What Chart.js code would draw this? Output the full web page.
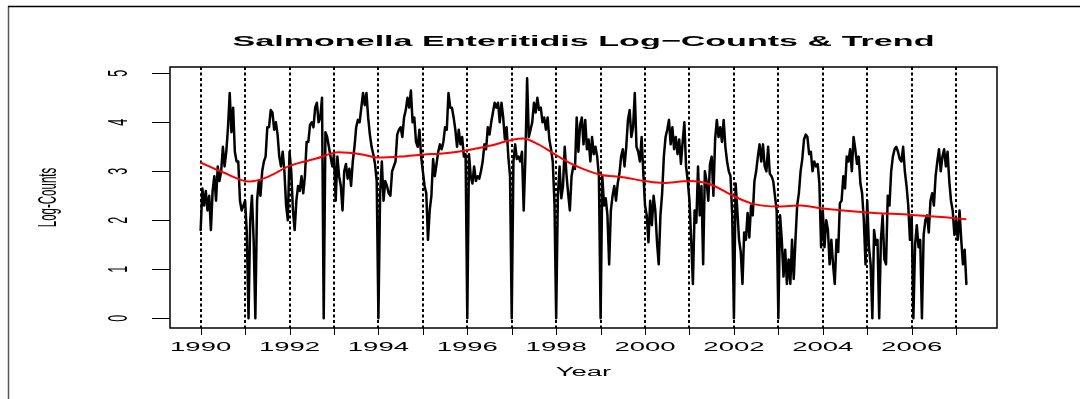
<!DOCTYPE html>
<html>
<head>
<meta charset="utf-8">
<title>Salmonella Enteritidis Log-Counts</title>
<script src="https://cdn.jsdelivr.net/npm/chart.js@4.4.1/dist/chart.umd.min.js"></script>
<style>
  html, body { margin: 0; padding: 0; background: #ffffff; }
  canvas { display: block; }
</style>
</head>
<body>
<canvas id="c" width="1086" height="399"></canvas>
<script>
// Bi-weekly log-counts, one array per year (26 readings per year)
const y1990 = [1.8,2.65,2.3,2.6,2.2,2.5,1.8,2.6,2.9,2.4,3.1,2.8,3.0,3.5,3.1,3.4,3.9,4.6,3.8,4.3,3.4,3.2,3.2,2.4,2.2,2.3];
const y1991 = [2.4,1.75,0.0,2.0,2.5,1.6,0.0,2.4,2.8,2.5,3.0,3.2,3.3,3.9,3.9,4.25,4.2,3.85,4.0,3.75,3.3,3.1,3.4,3.0,2.3,2.0];
const y1992 = [3.4,3.0,2.2,1.8,2.4,2.7,2.6,2.9,2.55,2.9,3.6,3.6,3.95,4.0,3.9,4.3,4.4,4.0,4.1,4.5,0.0,3.8,3.7,3.5,3.3,3.1];
const y1993 = [3.35,2.4,3.3,2.9,2.7,2.2,3.0,3.15,2.85,3.05,2.7,3.2,3.5,3.9,4.05,4.0,4.3,4.6,4.35,4.6,4.1,3.75,3.5,3.35,3.15,2.8];
const y1994 = [0.0,2.55,3.2,2.4,2.8,2.7,2.55,2.5,3.0,3.1,3.2,3.75,3.85,3.9,3.7,4.1,4.25,4.5,4.3,4.65,4.0,4.1,3.6,3.5,3.85,3.3];
const y1995 = [3.0,2.7,2.55,1.6,2.2,2.5,3.25,2.9,3.15,3.4,3.55,3.45,3.6,3.9,3.85,4.6,4.3,4.3,4.1,3.85,3.5,3.85,3.55,3.7,3.3,3.35];
const y1996 = [0.0,3.35,2.9,2.75,3.1,2.8,2.9,2.85,3.0,3.2,3.55,3.45,3.9,3.75,4.0,4.2,4.4,4.3,4.4,4.0,4.4,4.1,3.65,3.9,3.3,2.9];
const y1997 = [0.0,3.2,3.55,3.25,3.3,3.2,3.4,2.2,3.3,4.9,3.7,3.85,4.0,4.4,4.2,4.5,4.25,4.3,4.0,4.1,3.85,4.1,3.65,3.45,3.2,2.35];
const y1998 = [0.0,2.5,3.1,2.45,2.7,3.5,2.95,2.55,2.2,2.9,3.1,3.05,4.1,3.4,3.95,4.1,3.55,4.05,3.45,3.65,3.2,3.7,3.35,3.5,3.3,2.9];
const y1999 = [0.0,2.9,2.3,2.45,2.1,1.1,2.2,2.5,2.7,2.4,2.75,2.95,3.3,3.45,3.1,3.5,4.05,4.25,3.7,3.9,4.6,3.5,3.4,3.2,3.7,2.95];
const y2000 = [2.3,2.1,1.55,2.4,1.9,2.5,2.2,1.55,1.1,2.1,2.55,3.3,3.7,3.85,4.05,3.55,3.9,3.45,3.7,3.35,3.65,3.15,3.6,4.0,3.1,2.8];
const y2001 = [2.4,1.6,0.7,2.2,1.95,3.1,2.1,2.7,1.1,3.0,2.8,2.4,3.15,3.3,2.5,3.65,4.05,3.7,3.9,3.6,4.05,3.5,3.2,3.0,2.9,2.1];
const y2002 = [0.0,2.75,2.2,1.6,1.35,0.7,1.75,1.6,2.15,1.65,2.3,2.1,2.8,3.0,3.3,3.55,3.2,3.55,3.1,3.0,3.5,2.95,2.9,2.8,2.5,2.2];
const y2003 = [0.0,2.1,1.6,0.85,1.4,0.7,1.2,0.7,1.6,0.8,1.6,2.3,2.55,3.0,3.25,3.65,3.75,3.7,3.35,3.4,3.0,3.2,3.1,3.15,2.75,1.45];
const y2004 = [2.2,1.45,2.0,1.8,1.1,1.6,1.1,0.7,1.6,1.35,2.35,2.4,2.9,2.65,3.3,3.2,3.45,3.0,3.7,3.45,3.15,3.3,2.75,2.55,2.0,1.1];
const y2005 = [2.4,1.45,1.1,0.0,1.8,1.5,1.6,0.0,1.6,2.1,1.2,1.1,2.5,2.3,3.0,3.3,3.45,3.5,3.4,3.25,3.2,3.5,3.0,2.7,2.3,1.6];
const y2006 = [2.1,0.0,1.5,1.9,1.45,1.6,0.0,1.7,2.0,2.1,1.75,2.4,2.55,2.3,2.9,3.2,3.45,3.0,3.3,3.45,3.1,3.4,2.8,2.4,2.2,1.7];
const y2007 = [2.0,1.6,2.2,1.6,1.1,1.4,0.7];

const seasons = [
  [1990, y1990], [1991, y1991], [1992, y1992], [1993, y1993], [1994, y1994],
  [1995, y1995], [1996, y1996], [1997, y1997], [1998, y1998], [1999, y1999],
  [2000, y2000], [2001, y2001], [2002, y2002], [2003, y2003], [2004, y2004],
  [2005, y2005], [2006, y2006], [2007, y2007]
];
const readingsPerYear = 26;

// Smoothed trend
const trendYears  = [1990.0,1990.5,1991.1,1991.5,1992.0,1992.6,1993.1,1993.6,1994.0,1994.5,1995.0,1995.5,1996.0,1996.5,1997.0,1997.25,1997.6,1998.0,1998.3,1998.6,1999.0,1999.5,2000.0,2000.4,2001.0,2001.45,2002.0,2002.45,2003.0,2003.5,2004.0,2005.0,2006.0,2006.75,2007.23];
const trendValues = [3.18,2.98,2.79,2.88,3.11,3.26,3.39,3.35,3.28,3.30,3.34,3.37,3.43,3.52,3.64,3.67,3.55,3.33,3.17,3.05,2.93,2.88,2.80,2.76,2.80,2.74,2.49,2.33,2.28,2.30,2.24,2.16,2.11,2.06,2.02];

// Axes
const yearMarks  = [1990,1991,1992,1993,1994,1995,1996,1997,1998,1999,2000,2001,2002,2003,2004,2005,2006,2007];
const yearLabels = [1990,1992,1994,1996,1998,2000,2002,2004,2006];
const yTicks     = [0,1,2,3,4,5];

const titleText = 'Salmonella Enteritidis Log\u2212Counts & Trend';
const xTitle = 'Year';
const yTitle = 'Log-Counts';

const countPoints = [];
seasons.forEach(([yr, vals]) => {
  vals.forEach((v, i) => countPoints.push({ x: yr + i / readingsPerYear, y: v }));
});
const trendPoints = trendYears.map((t, i) => ({ x: t, y: trendValues[i] }));

const FONT = '"Liberation Sans", Arial, Helvetica, sans-serif';
const SX = 2.2; // horizontal stretch of all lettering

function stretchedText(ctx, text, x, y, size, bold, rotate) {
  ctx.save();
  ctx.translate(x, y);
  ctx.scale(SX, 1);
  if (rotate) ctx.rotate(-Math.PI / 2);
  ctx.font = (bold ? 'bold ' : '') + size + 'px ' + FONT;
  ctx.fillStyle = '#000';
  ctx.textAlign = 'center';
  ctx.textBaseline = 'middle';
  ctx.fillText(text, 0, 0);
  ctx.restore();
}

const baseGraphics = {
  id: 'baseGraphics',
  beforeDatasetDraw(chart, args) {
    // dotted year markers sit above the counts and below the trend
    if (args.index !== 0) return;
    const { ctx, chartArea: a, scales: { x } } = chart;
    ctx.save();
    ctx.strokeStyle = '#000';
    ctx.lineWidth = 2;
    ctx.setLineDash([3, 2.5]);
    yearMarks.forEach(yr => {
      const px = Math.round(x.getPixelForValue(yr));
      ctx.beginPath();
      ctx.moveTo(px, a.top);
      ctx.lineTo(px, a.bottom);
      ctx.stroke();
    });
    ctx.restore();
  },
  afterDraw(chart) {
    const { ctx, chartArea: a, scales: { x, y } } = chart;
    ctx.save();
    // figure frame
    ctx.strokeStyle = '#555';
    ctx.lineWidth = 1.5;
    ctx.beginPath();
    ctx.moveTo(8.5, 399);
    ctx.lineTo(8.5, 6.5);
    ctx.stroke();
    ctx.strokeStyle = '#000';
    ctx.beginPath();
    ctx.moveTo(8, 6.5);
    ctx.lineTo(1080, 6.5);
    ctx.stroke();
    // plot box
    ctx.lineWidth = 1.5;
    ctx.strokeRect(a.left, a.top, a.right - a.left, a.bottom - a.top);
    // x ticks
    ctx.lineWidth = 1;
    yearMarks.forEach(yr => {
      const px = Math.round(x.getPixelForValue(yr)) + 0.5;
      ctx.beginPath();
      ctx.moveTo(px, a.bottom);
      ctx.lineTo(px, a.bottom + 7);
      ctx.stroke();
    });
    // y ticks
    yTicks.forEach(v => {
      const py = Math.round(y.getPixelForValue(v)) + 0.5;
      ctx.beginPath();
      ctx.moveTo(a.left, py);
      ctx.lineTo(a.left - 18, py);
      ctx.stroke();
    });
    ctx.restore();

    yearLabels.forEach(yr => stretchedText(ctx, String(yr), x.getPixelForValue(yr), a.bottom + 20, 12.5, false, false));
    yTicks.forEach(v => stretchedText(ctx, String(v), a.left - 51, y.getPixelForValue(v), 12.5, false, true));
    const cx = (a.left + a.right) / 2;
    stretchedText(ctx, titleText, cx, 42, 15.5, true, false);
    stretchedText(ctx, xTitle, cx, a.bottom + 45, 12.5, false, false);
    stretchedText(ctx, yTitle, 49, (a.top + a.bottom) / 2, 11.5, false, true);
  }
};

new Chart(document.getElementById('c'), {
  type: 'line',
  data: {
    datasets: [
      {
        label: 'Trend',
        data: trendPoints,
        borderColor: '#ff0000',
        borderWidth: 2,
        pointRadius: 0,
        cubicInterpolationMode: 'monotone',
        fill: false
      },
      {
        label: 'Log-Counts',
        data: countPoints,
        borderColor: '#000000',
        borderWidth: 2.5,
        borderJoinStyle: 'round',
        borderCapStyle: 'round',
        pointRadius: 0,
        tension: 0,
        fill: false
      }
    ]
  },
  options: {
    responsive: false,
    devicePixelRatio: 1,
    animation: false,
    events: [],
    layout: { padding: { left: 170, right: 89, top: 67, bottom: 71 } },
    scales: {
      x: { type: 'linear', min: 1989.31, max: 2007.92, display: false },
      y: { type: 'linear', min: -0.2, max: 5.13, display: false }
    },
    plugins: {
      legend: { display: false },
      tooltip: { enabled: false }
    }
  },
  plugins: [baseGraphics]
});
</script>
</body>
</html>
